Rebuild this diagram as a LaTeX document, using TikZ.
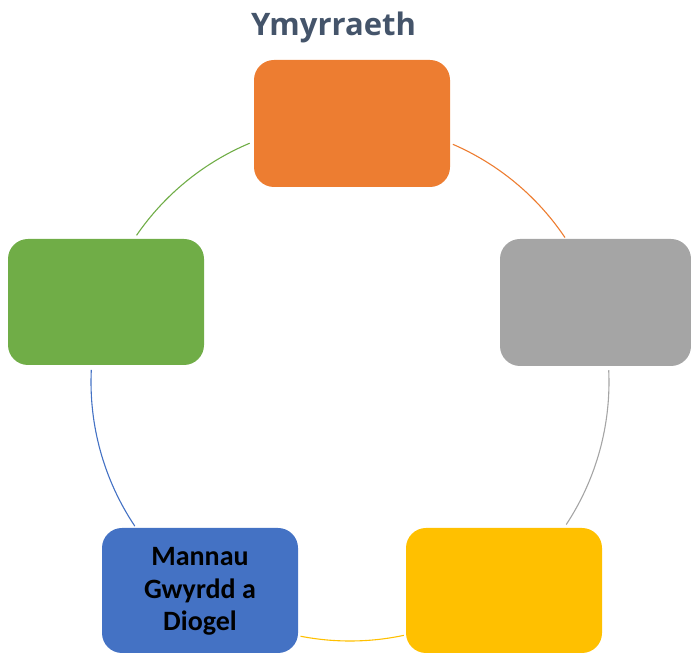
\documentclass[tikz,border=0pt]{standalone}
\usepackage{fontspec}
\setmainfont{Carlito}
\newfontfamily\titlefont{Open Sans}
\definecolor{cOrange}{HTML}{ED7D31}
\definecolor{cGray}{HTML}{A5A5A5}
\definecolor{cYellow}{HTML}{FFC000}
\definecolor{cBlue}{HTML}{4472C4}
\definecolor{cGreen}{HTML}{70AD47}
\definecolor{cTitle}{HTML}{44546A}
\tikzset{
  cyclebox/.style={rounded corners=20pt, inner sep=0pt, outer sep=0pt},
  cyclearc/.style={line width=1.1pt},
}
\begin{document}
\begin{tikzpicture}[x=1pt,y=1pt]
\useasboundingbox (0,0) rectangle (691,653);
% title
\node[anchor=base, text=cTitle, font=\titlefont\bfseries\fontsize{31}{36}\selectfont, inner sep=0pt] (title) at (333.5,617) {Ymyrraeth};
% boxes
\fill[cOrange, cyclebox] (254,466) rectangle (450,593);
\node (orange) at (352,529.5) {};
\fill[cGray, cyclebox] (500,287) rectangle (691,414);
\node (gray) at (595.5,350.5) {};
\fill[cYellow, cyclebox] (406,0) rectangle (602,125);
\node (yellow) at (504,62.5) {};
\fill[cGreen, cyclebox] (8,288) rectangle (204,414);
\node (green) at (106,351) {};
\fill[cBlue, cyclebox] (102,0) rectangle (298,125);
\node[font=\bfseries\fontsize{28}{32.5}\selectfont, align=center, text=black] (blue) at (200,61.5) {Mannau\\Gwyrdd a\\Diogel};
% cycle arcs
\coordinate (c) at (350,271);
\draw[cyclearc, cOrange] (c) ++(66.6:259) arc[start angle=66.6, end angle=33.9, radius=259];
\draw[cyclearc, cGray] (c) ++(2.6:259) arc[start angle=2.6, end angle=-33.4, radius=259];
\draw[cyclearc, cYellow] (c) ++(-78:259) arc[start angle=-78, end angle=-101, radius=259];
\draw[cyclearc, cBlue] (c) ++(-146.2:259) arc[start angle=-146.2, end angle=-182.7, radius=259];
\draw[cyclearc, cGreen] (c) ++(145.5:259) arc[start angle=145.5, end angle=112.8, radius=259];
\end{tikzpicture}
\end{document}
